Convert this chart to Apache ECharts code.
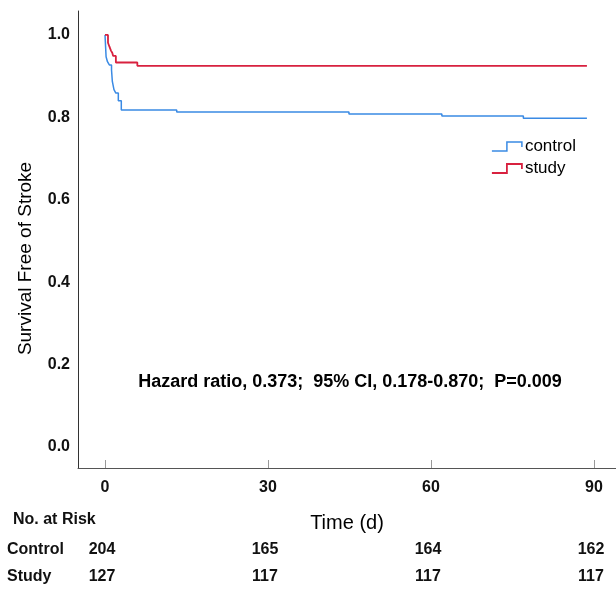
<!DOCTYPE html>
<html>
<head>
<meta charset="utf-8">
<title>Survival Free of Stroke</title>
<script src="https://cdn.jsdelivr.net/npm/echarts@6/dist/echarts.min.js"></script>
<style>
  html, body { margin: 0; padding: 0; background: #fff; }
  #main { width: 616px; height: 589px; }
</style>
</head>
<body>
<div id="main"></div>
<script>
  // Kaplan-Meier steps (time in days, survival fraction)
  var controlTime = [0, 0.2, 0.45, 0.8, 1.2, 1.35, 1.65, 2.0, 2.45, 3.0, 13.2, 44.9, 62.0, 77.0, 88.7]
  var controlSurv = [1.0, 0.947, 0.935, 0.927, 0.915, 0.887, 0.867, 0.859, 0.840, 0.818, 0.813, 0.808, 0.803, 0.798, 0.798]
  var studyTime = [0, 0.55, 0.8, 1.1, 1.35, 1.5, 2.0, 5.95, 88.7]
  var studySurv = [1.0, 0.981, 0.972, 0.962, 0.956, 0.949, 0.933, 0.925, 0.925]

  var xTicks = [0, 30, 60, 90]
  var yTicks = [0, 0.2, 0.4, 0.6, 0.8, 1.0]

  // number at risk under each x tick
  var riskRows = ['Control', 'Study']
  var controlRisk = [204, 165, 164, 162]
  var studyRisk = [127, 117, 117, 117]

  var statsText = 'Hazard ratio, 0.373;  95% CI, 0.178-0.870;  P=0.009'

  var blue = '#3a8ae4'
  var red = '#d8213f'
  var font = "'Liberation Sans', Arial, sans-serif"
  var stepIcon = 'path://M0,9 L15,9 L15,0 L30,0 L30,5'

  function pairs(xs, ys) {
    return xs.map(function (x, i) { return [x, ys[i]] })
  }

  var chart = echarts.init(document.getElementById('main'))

  chart.setOption({
    animation: false,
    textStyle: { fontFamily: font },
    grid: {
      left: 78,
      right: 0,
      top: 11,
      bottom: 121,
      containLabel: false,
      outerBoundsMode: 'none'
    },
    legend: {
      orient: 'vertical',
      left: 486,
      top: 133,
      itemWidth: 30,
      itemHeight: 9,
      itemGap: 5,
      icon: stepIcon,
      textStyle: { fontSize: 17, color: '#000', padding: [0, 0, 0, -2] },
      data: [
        { name: 'control', itemStyle: { color: 'transparent', borderColor: blue, borderWidth: 1.5 } },
        { name: 'study', itemStyle: { color: 'transparent', borderColor: red, borderWidth: 1.8 } }
      ]
    },
    xAxis: {
      type: 'value',
      min: -4.97,
      max: 94.05,
      name: 'Time (d)',
      nameLocation: 'middle',
      nameGap: 45,
      nameTextStyle: { fontSize: 20, color: '#000' },
      axisLine: { onZero: false, lineStyle: { color: '#555', width: 1 } },
      axisTick: {
        inside: true,
        length: 8,
        customValues: xTicks,
        lineStyle: { color: '#999' }
      },
      axisLabel: {
        customValues: xTicks,
        margin: 12,
        fontSize: 16,
        fontWeight: 'bold',
        color: '#111'
      },
      splitLine: { show: false }
    },
    yAxis: {
      type: 'value',
      min: -0.051,
      max: 1.058,
      name: 'Survival Free of Stroke',
      nameLocation: 'middle',
      nameGap: 43,
      nameTextStyle: { fontSize: 19, color: '#000', padding: [0, 38, 0, 0] },
      axisLine: { show: true, onZero: false, lineStyle: { color: '#333', width: 1 } },
      axisTick: { show: false },
      axisLabel: {
        customValues: yTicks,
        margin: 8,
        fontSize: 16,
        fontWeight: 'bold',
        color: '#111',
        formatter: function (v) { return v.toFixed(1) }
      },
      splitLine: { show: false }
    },
    series: [
      {
        name: 'control',
        type: 'line',
        step: 'end',
        showSymbol: false,
        color: blue,
        lineStyle: { color: blue, width: 1.5 },
        data: pairs(controlTime, controlSurv)
      },
      {
        name: 'study',
        type: 'line',
        step: 'end',
        showSymbol: false,
        color: red,
        lineStyle: { color: red, width: 1.8 },
        data: pairs(studyTime, studySurv)
      }
    ]
  })

  // risk table and stats text, placed from the x axis scale
  var bold = { fontFamily: font, fontWeight: 'bold', fontSize: 16, fill: '#111' }
  var graphics = [
    {
      type: 'text', left: 13, top: 512,
      style: Object.assign({ text: 'No. at Risk' }, bold)
    },
    {
      type: 'text', x: 350, y: 382,
      style: Object.assign({}, bold, { text: statsText, fontSize: 18, align: 'center', verticalAlign: 'middle', fill: '#000' })
    }
  ]
  var rowY = [550, 577]
  var rowValues = [controlRisk, studyRisk]
  riskRows.forEach(function (row, r) {
    graphics.push({
      type: 'text', x: 7, y: rowY[r],
      style: Object.assign({}, bold, { text: row, verticalAlign: 'middle' })
    })
    xTicks.forEach(function (t, i) {
      var px = chart.convertToPixel({ xAxisIndex: 0 }, t)
      graphics.push({
        type: 'text', x: px - 3, y: rowY[r],
        style: Object.assign({}, bold, { text: String(rowValues[r][i]), align: 'center', verticalAlign: 'middle' })
      })
    })
  })
  chart.setOption({ graphic: graphics })
</script>
</body>
</html>
